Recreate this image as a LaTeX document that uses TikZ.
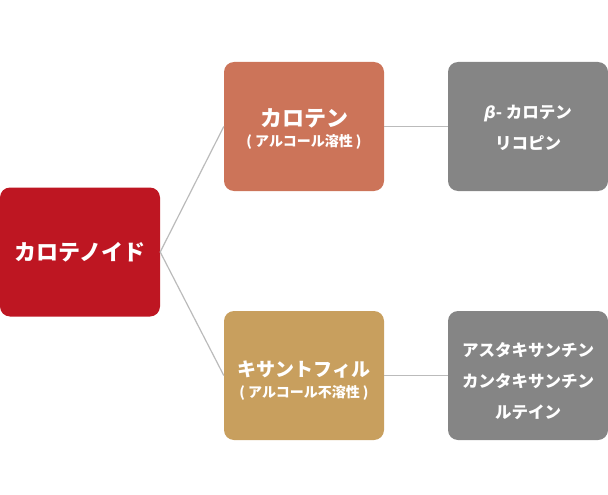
\documentclass[tikz,border=0pt]{standalone}
\usepackage{fontspec}
\setmainfont{Noto Sans CJK JP}
\newfontfamily\betafont{DejaVu Sans}
\definecolor{rootred}{HTML}{BE1622}
\definecolor{carored}{HTML}{CC7459}
\definecolor{xanthgold}{HTML}{C89F5E}
\definecolor{boxgray}{HTML}{858585}
\definecolor{linegray}{HTML}{BBBBBB}
\tikzset{
  catbox/.style={rounded corners=10pt, minimum width=160pt, minimum height=129pt,
    inner sep=0pt, text=white, align=center, font=\bfseries},
  titletext/.style={text=white, inner sep=0pt, font=\bfseries\fontsize{22}{26}\selectfont},
  subtext/.style={text=white, inner sep=0pt, font=\bfseries\fontsize{14}{17}\selectfont},
  listtext/.style={text=white, inner sep=0pt, align=center,
    font=\bfseries\fontsize{16.5}{31}\selectfont},
  link/.style={draw=linegray, line width=1.2pt}
}
\begin{document}
\begin{tikzpicture}[x=1pt, y=-1pt]
    \useasboundingbox (0, 0) rectangle (608, 495);

    % boxes
    \node[catbox, fill=rootred] (carotenoid) at (80, 252) {};
    \node[catbox, fill=carored] (carotene) at (304, 126.5) {};
    \node[catbox, fill=xanthgold] (xantho) at (304, 375.5) {};
    \node[catbox, fill=boxgray] (caroteneex) at (528, 126.5) {};
    \node[catbox, fill=boxgray] (xanthoex) at (528, 375.5) {};

    % texts
    \node[titletext] (carotenoidname) at (carotenoid.center) {カロテノイド};
    \node[titletext] (carotenename) at ([yshift=8.5pt]carotene.center) {カロテン};
    \node[subtext] (carotenesub) at ([yshift=-15.5pt]carotene.center) {( アルコール溶性 )};
    \node[titletext, font=\bfseries\fontsize{19}{23}\selectfont]
      (xanthoname) at ([yshift=5.5pt]xantho.center) {キサントフィル};
    \node[subtext] (xanthosub) at ([yshift=-17.5pt]xantho.center) {( アルコール不溶性 )};
    \node[listtext] (carotenelist) at ([yshift=-1.5pt]caroteneex.center)
      {{\betafont\itshape β}- カロテン\\リコピン};
    \node[listtext] (xantholist) at ([yshift=-5.5pt]xanthoex.center)
      {アスタキサンチン\\カンタキサンチン\\ルテイン};

    % connectors
    \draw[link] (carotenoid.east) -- (carotene.west);
    \draw[link] (carotenoid.east) -- (xantho.west);
    \draw[link] (carotene) -- (caroteneex);
    \draw[link] (xantho) -- (xanthoex);
  \end{tikzpicture}
\end{document}
